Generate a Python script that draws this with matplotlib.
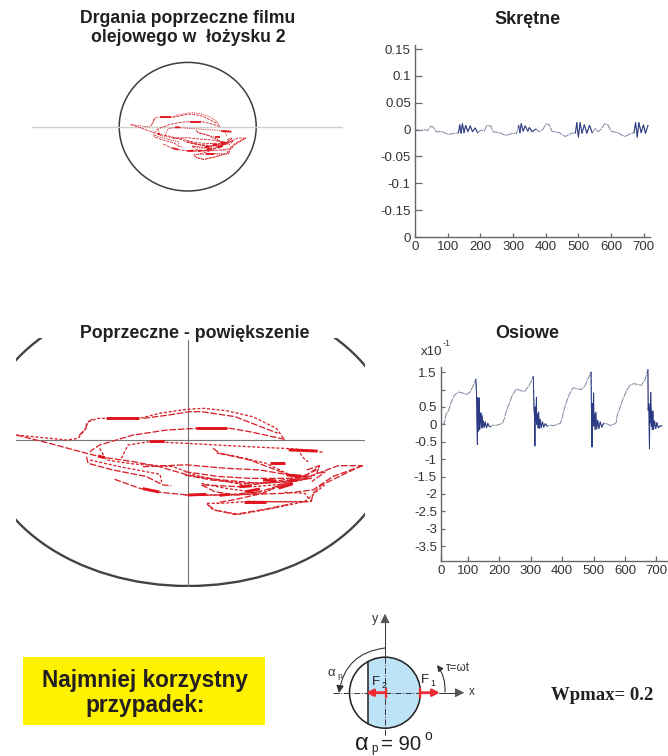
import numpy as np
import matplotlib
matplotlib.use("Agg")
import matplotlib.pyplot as plt
from matplotlib.patches import Circle, Ellipse, Rectangle

plt.rcParams['font.family'] = ['Liberation Sans', 'DejaVu Sans']

W, H = 668, 756

# orbita - procent promienia panwi (x, y)
orbity = [
    ([-83.5, -59.2, -53.5, -49.8, -48.6, -43.8, -23.5, -13.8, -0.8, 7.3, 18.6, 31.6, 43, 47],
     [3.4, 0, 1.1, 7.8, 12.6, 14.8, 14.8, 18.3, 21.0, 21.7, 20.1, 15.9, 8, 0]),
    ([47, 30, 20.3, 4, -10.5, -26.7, -43, -47.8],
     [0.5, 5.7, 8, 8, 6.8, 3.4, -3.4, -8]),
    ([-83.5, -67.3, -49.4, -41.3, -26.7, -13.8, 0, 13.8, 34.8, 49.4, 59.2],
     [3.4, -2.3, -9.1, -11.9, -14.8, -18.3, -24, -27, -29.7, -28.5, -26.3]),
    ([-32.4, -29.2, -18.6, -0.8, 13.8, 30, 46.2, 59.2, 65.6],
     [-12.6, -3.4, -1.1, -2.3, -3.4, -4.6, -5.7, -6.8, -8.4]),
    ([12.2, 15.4, 30, 49.4, 59.2, 72.9, 85],
     [-5.7, -9.1, -13.7, -24, -25, -17.6, -17.6]),
    ([85, 70.5, 60.8, 47.8, 34.8, 22, 14],
     [-17.6, -25, -34.2, -36.5, -37, -41, -43]),
    ([57.5, 46.2, 28.4, 15.4, 8.9, 12.2, 25.1, 41.3, 56.7, 61.6, 66.5],
     [-42.2, -42.2, -42.2, -43.4, -43.4, -47.9, -50.9, -46.8, -42.2, -36.5, -30.8]),
    ([-35.7, -23.5, -13.8, 0, 18.6, 34.8, 51, 62.4],
     [-26.9, -33.1, -35.8, -37.7, -37.7, -35.4, -28.5, -20.5]),
    ([-49.4, -48.6, -36.5, -20.3, -12.2, -8.1],
     [-11.4, -16, -20.5, -25, -30.8, -31.3]),
    ([-43, -39.7, -26.7, -7.3, 5.7, 31.6, 51],
     [-5.7, -13.7, -16.4, -18.3, -25, -32, -29.7]),
    ([-21.9, -0.8, 18.6, 34.8, 49.4],
     [-18.3, -17, -19.4, -20.5, -24]),
    ([7.3, 25.1, 46.2, 57.5, 64],
     [-30.8, -32, -27.4, -24, -18.3]),
    ([-47.7, -33.1, -13.6, -12.8],
     [-13.7, -18.3, -23.5, -29]),
    ([-53, -49.6, -49.4, -46.5],
     [3, 8, 11.5, 14.3]),
    ([-21.7, -10, 0.9, 6.6, 22.9, 43.6],
     [14.8, 17, 19.4, 19.4, 16, 4.6]),
    ([14, 23, 38, 49],
     [-9, -11, -16, -23.5]),
    ([-1.5, 14.8, 31, 50.4, 61.7],
     [-21.7, -25, -26.3, -26.3, -24]),
    ([-1.5, 11.5, 27.7, 44, 60.2],
     [-24, -27.4, -29.7, -29, -25]),
    ([6.6, 18, 35.8, 50.4, 60.2],
     [-29.7, -33, -36.5, -28.5, -26.2]),
    ([6.6, 13, 22.9, 34.2],
     [-30.8, -35.4, -37.7, -36.5]),
    ([-1.5, 18, 35.8, 47, 59],
     [-37.7, -37.7, -37, -29, -26]),
    ([29, 47, 56.7, 60, 56.7, 47],
     [-42, -42.4, -42.4, -42, -36.5, -35.8]),
    ([60, 60.8, 65, 84.4],
     [-42, -36.5, -30.8, -17.6]),
    ([57.7, 64, 62.6, 66.6, 60.2],
     [-20.5, -17.6, -22.8, -22, -28.5]),
    ([54.5, 57, 58.5],
     [-9, -13.7, -14.8]),
    ([9.9, 13, 22.9, 39, 50.4],
     [-44.5, -48, -51, -47, -43.6]),
]
# grubsze kawalki orbity
orbity_grube = [
    ([48, 55], [-24, -24.7]),
    ([36.5, 43], [-27.4, -28]),
    ([49.5, 53.5], [-27.8, -27.4]),
    ([15.4, 20.3], [-37.9, -37.2]),
    ([0, 8.9], [-37.7, -37.2]),
    ([-43.8, -40.5], [-11, -12.1]),
    ([-40, -24], [14.8, 14.8]),
    ([-18.6, -11.3], [-1.1, -1]),
    ([4, 19], [8, 8]),
    ([27, 38], [-42.2, -42.2]),
    ([39.9, 47], [-15.9, -15.9]),
    ([49, 63], [-6.8, -7.6]),
    ([25, 31], [-32, -31.4]),
    ([-22, -14], [-33.3, -35.6]),
    ([28, 35], [-35.4, -33.5]),
    ([44, 51], [-33, -30]),
]

# drgania skretne
skretne_x = [4, 17, 28, 38, 48, 55, 65, 84, 102, 120, 133, 137, 141, 145, 150, 155, 162, 169, 176, 184, 192, 201, 212,
             219, 232, 239, 260, 278, 299, 311, 317, 321, 325, 331, 337, 345, 350, 358, 370, 380, 391, 401, 411, 419,
             442, 460, 478, 491, 495, 500, 505, 511, 518, 526, 534, 542, 552, 560, 570, 580, 590, 600, 621, 641, 662,
             670, 675, 680, 685, 692, 699, 705, 713]
skretne_y = [0, -.002, 0, -.002, .006, .005, -.004, -.004, -.009, -.007, -.006, .009, -.007, .011, -.006, .008, -.004,
             .007, -.004, .003, -.006, -.001, -.003, .007, .007, -.004, -.006, -.011, -.007, -.007, .008, -.006, .011,
             -.003, .007, -.003, .004, -.004, .001, -.004, 0, .011, .009, -.003, -.006, -.013, -.007, -.006, .013,
             -.014, .013, -.007, .009, -.007, .008, -.006, .002, -.004, .001, .011, .009, -.003, -.006, -.013, -.007,
             -.006, .013, -.014, .013, -.006, .009, -.007, .008]
skretne_okna = [133, 317, 491, 670]

# drgania osiowe
osiowe_x = [16, 24, 30, 38, 46, 54, 62, 70, 84, 96, 106, 116, 125, 127, 128, 130, 131, 132, 134, 136, 137, 139, 141,
            143, 145, 147, 149, 152, 155, 159, 163, 167, 172,
            180, 190, 200, 210, 217, 222, 232, 242, 254, 265, 280, 292, 302, 308, 310, 312, 313, 314, 316, 318, 319,
            321, 323, 325, 327, 330, 333, 337, 341, 346, 352,
            362, 372, 384, 394, 400, 404, 412, 422, 434, 446, 460, 472, 482, 492, 493, 494, 495, 496, 498, 500, 501,
            503, 505, 507, 510, 513, 517, 521, 526, 532,
            542, 552, 564, 572, 576, 582, 592, 604, 616, 628, 640, 652, 664, 673, 674, 676, 678, 679, 680, 682, 684,
            685, 687, 689, 691, 694, 698, 702, 706, 711, 718]
osiowe_y = [0, .02, .28, .4, .62, .8, .88, .93, .9, .86, .92, 1.1, 1.3, .9, .35, -.58, .77, -.2, .2, .76, -.15, .1, .33,
            -.1, .25, -.1, .1, -.08, .07, -.1, .03, -.05, -.07,
            -.02, -.03, 0, .03, .2, .38, .62, .85, 1.02, .98, .94, 1.08, 1.25, 1.38, .5, .2, -.62, .5, .1, .78, 0,
            .3, -.1, .35, -.12, .15, -.1, .08, -.08, .02, -.05,
            -.02, -.04, 0, .03, .2, .35, .6, .85, 1.05, 1.03, 1.0, 1.1, 1.3, 1.5, .5, .2, -.65, .6, .1, .9, -.05,
            .3, -.15, .35, -.13, .12, -.12, .07, -.08, .03,
            .02, -.03, 0, .05, .3, .42, .7, .95, 1.13, 1.17, 1.15, 1.12, 1.3, 1.57, .4, .6, -.7, .5, .05, .92, -.05,
            .4, -.15, .38, -.15, .1, -.12, .05, -.1, -.05, -.04]
osiowe_okna = [125, 308, 491, 672]

skretne_yticks = [0.15, 0.1, 0.05, 0, -0.05, -0.1, -0.15, -0.2]
skretne_ylabels = ['0.15', '0.1', '0.05', '0', '-0.05', '-0.1', '-0.15', '0']
skretne_xticks = [0, 100, 200, 300, 400, 500, 600, 700]
osiowe_yticks = [1.5, 1, 0.5, 0, -0.5, -1, -1.5, -2, -2.5, -3, -3.5]
osiowe_ylabels = ['1.5', '', '0.5', '0', '-0.5', '-1', '-1.5', '-2', '-2.5', '-3', '-3.5']
osiowe_xticks = [14, 100, 200, 300, 400, 500, 600, 700]
osiowe_xlabels = ['0', '100', '200', '300', '400', '500', '600', '700']


def px_axes(left, top, right, bottom):
    return fig.add_axes([left / W, 1 - bottom / H, (right - left) / W, (bottom - top) / H])


def rysuj_orbite(ax, lw, dash):
    for i, (x, y) in enumerate(orbity):
        styl = (0, dash) if i % 3 else (0, (dash[0] * 0.45, dash[1]))
        ax.plot(np.array(x) / 100, np.array(y) / 100, color='#d8232a', lw=lw, ls=styl)
    for x, y in orbity_grube:
        ax.plot(np.array(x) / 100, np.array(y) / 100, color='#e0141c', lw=lw * 2.2, solid_capstyle='butt')


def rysuj_przebieg(ax, x, y, okna, szer):
    x = np.array(x)
    y = np.array(y)
    ax.plot(x, y, color='#7f86a0', lw=0.7, ls=(0, (7, 0.8)))
    maska = np.zeros(len(x), dtype=bool)
    for o in okna:
        maska |= (x >= o) & (x <= o + szer)
    ax.plot(x, np.ma.masked_where(~maska, y), color='#2c3a86', lw=0.7)


def styl_osi(ax, dl_x, dl_y):
    for s in ['top', 'right']:
        ax.spines[s].set_visible(False)
    for s in ['left', 'bottom']:
        ax.spines[s].set_color('#666666')
        ax.spines[s].set_linewidth(1.0)
    ax.tick_params(direction='in', width=0.9, color='#666666', labelsize=9.5, labelcolor='#333333', pad=3)
    ax.tick_params(axis='x', length=dl_x)
    ax.tick_params(axis='y', length=dl_y)


fig = plt.figure(figsize=(W / 100, H / 100), dpi=100)

# tlo w pikselach - napisy i schemat
bg = fig.add_axes([0, 0, 1, 1])
bg.set_xlim(0, W)
bg.set_ylim(H, 0)
bg.axis('off')

bg.text(188, 28, 'Drgania poprzeczne filmu\nolejowego w  łożysku 2', ha='center', va='center', fontsize=12.7,
        fontweight='bold', color='#231f20', linespacing=1.22)
bg.text(528, 19, 'Skrętne', ha='center', va='center', fontsize=13, fontweight='bold', color='#231f20')
bg.text(195, 334, 'Poprzeczne - powiększenie', ha='center', va='center', fontsize=12.8, fontweight='bold',
        color='#231f20')
bg.text(527, 334, 'Osiowe', ha='center', va='center', fontsize=13, fontweight='bold', color='#231f20')
bg.text(421, 352, 'x10', ha='left', va='center', fontsize=9.5, color='#333333')
bg.text(443, 344, '-1', ha='left', va='center', fontsize=6.5, color='#333333')

# zolta ramka
bg.add_patch(Rectangle((23, 657), 242, 68, facecolor='#fff200', edgecolor='none'))
bg.text(145, 693, 'Najmniej korzystny\nprzypadek:', ha='center', va='center', fontsize=16.3, fontweight='bold',
        color='#231f20', linespacing=1.12)
bg.text(602.5, 696, 'Wpmax= 0.2', ha='center', va='center', fontsize=13.5, fontweight='bold',
        family='Liberation Serif', color='#231f20')

# schemat lozyska
cx, cy, r = 385, 692.7, 35.5
kolo = Circle((cx, cy), r, facecolor='white', edgecolor='none')
bg.add_patch(kolo)
nieb = Rectangle((367.7, cy - r), 60, 2 * r, facecolor='#bde3f7', edgecolor='none')
bg.add_patch(nieb)
nieb.set_clip_path(kolo)
bg.plot([367.7, 367.7], [cy - 30.5, cy + 30.5], color='#231f20', lw=1.1)
bg.add_patch(Circle((cx, cy), r, facecolor='none', edgecolor='#231f20', lw=1.1))
bg.plot([cx, cx], [620, cy - r], color='#333333', lw=0.7)
bg.plot([cx, cx], [cy - r, 736], color='#333333', lw=0.7, ls='-.')
bg.plot([333, cx + r], [cy, cy], color='#333333', lw=0.7, ls='-.')
bg.plot([cx + r + 18, 460], [cy, cy], color='#333333', lw=0.7)
bg.annotate('', xy=(385, 611), xytext=(385, 622), arrowprops=dict(arrowstyle='-|>', color='#555555', lw=0.7,
                                                                 mutation_scale=14))
bg.annotate('', xy=(467, cy), xytext=(455, cy), arrowprops=dict(arrowstyle='-|>', color='#555555', lw=0.7,
                                                               mutation_scale=14))
bg.annotate('', xy=(440, cy), xytext=(420, cy), arrowprops=dict(arrowstyle='-|>', color='#ee2b33', lw=2,
                                                               mutation_scale=10, shrinkA=0, shrinkB=0))
bg.annotate('', xy=(366, cy), xytext=(386, cy), arrowprops=dict(arrowstyle='-|>', color='#ee2b33', lw=2,
                                                               mutation_scale=10, shrinkA=0, shrinkB=0))
bg.plot([386, 386], [cy - 4, cy + 4], color='#ee2b33', lw=1.6)
bg.plot([420, 420], [cy - 4, cy + 4], color='#ee2b33', lw=1.6)
bg.annotate('', xy=(339, 693), xytext=(385, 648),
            arrowprops=dict(arrowstyle='-|>', color='#333333', lw=0.8, mutation_scale=11, shrinkA=0, shrinkB=0,
                            connectionstyle='arc3,rad=0.38'))
bg.annotate('', xy=(437, 665), xytext=(445, 692),
            arrowprops=dict(arrowstyle='-|>', color='#333333', lw=0.8, mutation_scale=9, shrinkA=0, shrinkB=0,
                            connectionstyle='arc3,rad=0.18'))
bg.text(375, 619, 'y', ha='center', va='center', fontsize=9, color='#333333')
bg.text(472, 692, 'x', ha='center', va='center', fontsize=8.5, color='#333333')
bg.text(328, 673, 'α', ha='left', va='center', fontsize=9.5, color='#333333')
bg.text(337, 676, 'p', ha='left', va='center', fontsize=6, color='#333333')
bg.text(446, 668, 'τ=ωt', ha='left', va='center', fontsize=8.5, color='#333333')
bg.text(372, 682, 'F', ha='left', va='center', fontsize=9.5, color='#231f20')
bg.text(381.5, 686, '2', ha='left', va='center', fontsize=6.5, color='#231f20')
bg.text(421, 680, 'F', ha='left', va='center', fontsize=9.5, color='#231f20')
bg.text(430.5, 684, '1', ha='left', va='center', fontsize=6.5, color='#231f20')
bg.text(355, 744, 'α', ha='left', va='center', fontsize=17, color='#231f20')
bg.text(371, 749, 'p', ha='left', va='center', fontsize=8.5, color='#231f20')
bg.text(381, 744, '= 90', ha='left', va='center', fontsize=14.7, color='#231f20')
bg.text(424, 736, 'o', ha='left', va='center', fontsize=10, color='#231f20')

# mala orbita
ax1 = px_axes(32, 58, 343, 196)
ax1.set_xlim((32 - 187.7) / 68.5, (343 - 187.7) / 68.5)
ax1.set_ylim((126.7 - 196) / 64.3, (126.7 - 58) / 64.3)
ax1.axis('off')
ax1.axhline(0, color='#cfcfcf', lw=1.0)
ax1.add_patch(Ellipse((0, 0), 2, 2, facecolor='none', edgecolor='#3d3d3d', lw=1.1))
rysuj_orbite(ax1, 0.6, (3.5, 1.2))

# Skretne
ax2 = px_axes(415, 45, 650, 237)
ax2.set_xlim(0, 719)
ax2.set_ylim(-0.2, 0.1575)
rysuj_przebieg(ax2, skretne_x, skretne_y, skretne_okna, 60)
ax2.set_yticks(skretne_yticks, skretne_ylabels)
ax2.set_xticks(skretne_xticks, [str(v) for v in skretne_xticks])
styl_osi(ax2, 3, 4.8)

# duza orbita
ax3 = px_axes(16, 338, 365, 587)
ax3.set_xlim((16 - 188) / 205.6, (365 - 188) / 205.6)
ax3.set_ylim((440 - 587) / 146, (440 - 338) / 146)
ax3.axis('off')
ax3.axhline(0, color='#777777', lw=0.8)
ax3.plot([0, 0], [(440 - 340) / 146, -1], color='#777777', lw=0.8)
ax3.add_patch(Ellipse((0, 0), 2, 2, facecolor='none', edgecolor='#444444', lw=1.7))
rysuj_orbite(ax3, 0.95, (5, 1.4))

# Osiowe
ax4 = px_axes(441, 367, 668, 561)
ax4.set_xlim(14, 737)
ax4.set_ylim(-3.93, 1.65)
rysuj_przebieg(ax4, osiowe_x, osiowe_y, osiowe_okna, 50)
ax4.set_yticks(osiowe_yticks, osiowe_ylabels)
ax4.set_xticks(osiowe_xticks, osiowe_xlabels)
styl_osi(ax4, 3.5, 3.2)

fig.savefig('out.png', dpi=100)
